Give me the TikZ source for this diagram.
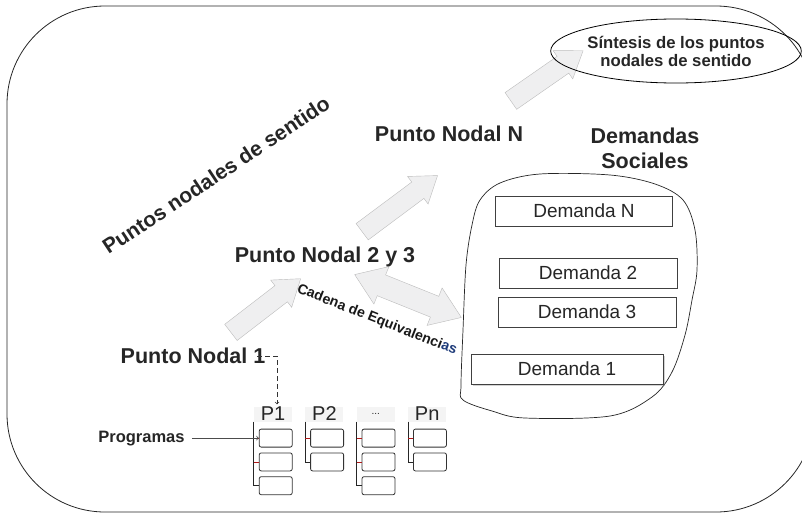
\documentclass[tikz,border=0pt]{standalone}
\usepackage{fontspec}
\setmainfont{Liberation Sans}
\usetikzlibrary{shapes,arrows,positioning,calc,shadows}

\definecolor{cadblue}{HTML}{1F3C7A}
\definecolor{arrowfill}{HTML}{EFEFF0}
\definecolor{arrowline}{HTML}{BBBBBB}
\definecolor{tickred}{HTML}{B01818}

\begin{document}
\begin{tikzpicture}[x=1pt, y=-1pt, node distance=5pt,
    nodal/.style={font=\fontsize{21.5}{25}\selectfont\bfseries, text=black!85, inner sep=0pt},
    demanda/.style={draw=black!75, rectangle, minimum height=30pt, font=\fontsize{19}{21}\selectfont, text=black!85},
    bigarrow/.style={single arrow, draw=arrowline, fill=arrowfill, inner xsep=0pt, inner ysep=10pt, single arrow head extend=7pt, single arrow tip angle=70},
    phead/.style={rectangle, fill=gray!9, minimum width=38pt, minimum height=15pt, inner sep=0pt, font=\fontsize{20}{20}\selectfont, text=black!85},
    pbox/.style={draw=black!80, rectangle, rounded corners=2pt, line width=0.8pt, minimum width=33pt, minimum height=18pt, inner sep=0pt},
    tree/.style={black!85, line width=0.7pt},
    tick/.style={tickred, line width=0.7pt}]

    \useasboundingbox (0,0) rectangle (802,514);
    \clip (0,0) rectangle (802,514);

    \draw [black!85, line width=0.8pt, rounded corners=98pt] (7,6) rectangle (814,512);

    \node (a1) [bigarrow, minimum height=88pt, rotate=37.6] at (260,310) {};
    \node (a2) [bigarrow, minimum height=94pt, rotate=36.7] at (394,208) {};
    \node (a3) [bigarrow, minimum height=88pt, rotate=34.8] at (541,80) {};
    \node (a4) [double arrow, draw=arrowline, fill=arrowfill, inner xsep=0pt, inner ysep=11pt, double arrow head extend=9pt, double arrow tip angle=70, minimum height=115pt, rotate=-21.9] at (408,296) {};

    \node (pns) [nodal, font=\fontsize{21}{25}\selectfont\bfseries, rotate=33.5] at (216,175) {Puntos nodales de sentido};
    \node (n1) [nodal] at (193,356) {Punto Nodal 1};
    \node (n23) [nodal] at (325,257) {Punto Nodal 2 y 3};
    \node (nn) [nodal] at (449,134) {Punto Nodal N};
    \node (soc) [nodal, align=center] at (645,148) {Demandas\\Sociales};

    \node (sint) [draw, ellipse, line width=0.8pt, minimum width=217pt, minimum height=64pt, inner sep=0pt, font=\fontsize{16.7}{18}\selectfont\bfseries, text=black!85, align=center] at (676,51) {Síntesis de los puntos\\nodales de sentido};

    \node (cad) [font=\fontsize{14.2}{16}\selectfont\bfseries, text=black!90, inner sep=0pt, rotate=-21.5] at (377,320) {Cadena de Equivalenci\textcolor{cadblue}{as}};

    \draw [black!85, line width=0.7pt] plot [smooth cycle, tension=0.55] coordinates {(480,200) (500,183) (540,174) (610,175) (655,184) (683,200) (695,230) (697,270) (692,300) (685,335) (672,372) (652,397) (610,416) (525,418) (492,411) (463,400) (461,385) (463,330) (466,265) (472,225)};

    \node (dN) [demanda, minimum width=177pt] at (584,211) {Demanda N};
    \node (d2) [demanda, minimum width=178pt] at (588,273) {Demanda 2};
    \node (d3) [demanda, minimum width=178pt] at (587,312) {Demanda 3};
    \node (d1) [demanda, minimum width=192pt, fill=white, drop shadow={shadow xshift=1.5pt, shadow yshift=-1.5pt, opacity=0.35}] at (567,369) {Demanda 1};

    \node (p1) [phead] at (273,414) {P1};
    \node (p2) [phead, right=13pt of p1] {P2};
    \node (p3) [phead, right=13pt of p2] {\fontsize{10}{10}\selectfont ...};
    \node (pn) [phead, right=13pt of p3] {Pn};

    \node (p1a) [pbox, below right=7pt and 5pt of p1.south west] {};
    \node (p1b) [pbox, below=5pt of p1a] {};
    \node (p1c) [pbox, below=5pt of p1b] {};
    \node (p2a) [pbox, below right=7pt and 5pt of p2.south west] {};
    \node (p2b) [pbox, below=5pt of p2a] {};
    \node (p3a) [pbox, below right=7pt and 5pt of p3.south west] {};
    \node (p3b) [pbox, below=5pt of p3a] {};
    \node (p3c) [pbox, below=5pt of p3b] {};
    \node (pna) [pbox, below right=7pt and 5pt of pn.south west] {};
    \node (pnb) [pbox, below=5pt of pna] {};

    \draw [tree] (p1.south west) |- (p1c.west);
    \draw [tick] (p1.south west |- p1a.west) -- (p1a.west);
    \draw [tick] (p1.south west |- p1b.west) -- (p1b.west);
    \draw [tree] (p2.south west) |- (p2b.west);
    \draw [tick] (p2.south west |- p2a.west) -- (p2a.west);
    \draw [tree] (p3.south west) |- (p3c.west);
    \draw [tick] (p3.south west |- p3a.west) -- (p3a.west);
    \draw [tick] (p3.south west |- p3b.west) -- (p3b.west);
    \draw [tree] (pn.south west) |- (pnb.west);
    \draw [tick] (pn.south west |- pna.west) -- (pna.west);

    \node (prog) [font=\fontsize{16.5}{18}\selectfont\bfseries, text=black!85, inner sep=0pt, left=74pt of p1a] {Programas};
    \draw [->, black!70, line width=0.8pt, shorten <=7pt] (prog) -- (p1a);

    \draw [dash pattern=on 5pt off 3pt, ->, black!80, line width=0.7pt, shorten >=2pt] ([xshift=-8pt]n1.east) -| ([xshift=4pt]p1.north);

\end{tikzpicture}
\end{document}
